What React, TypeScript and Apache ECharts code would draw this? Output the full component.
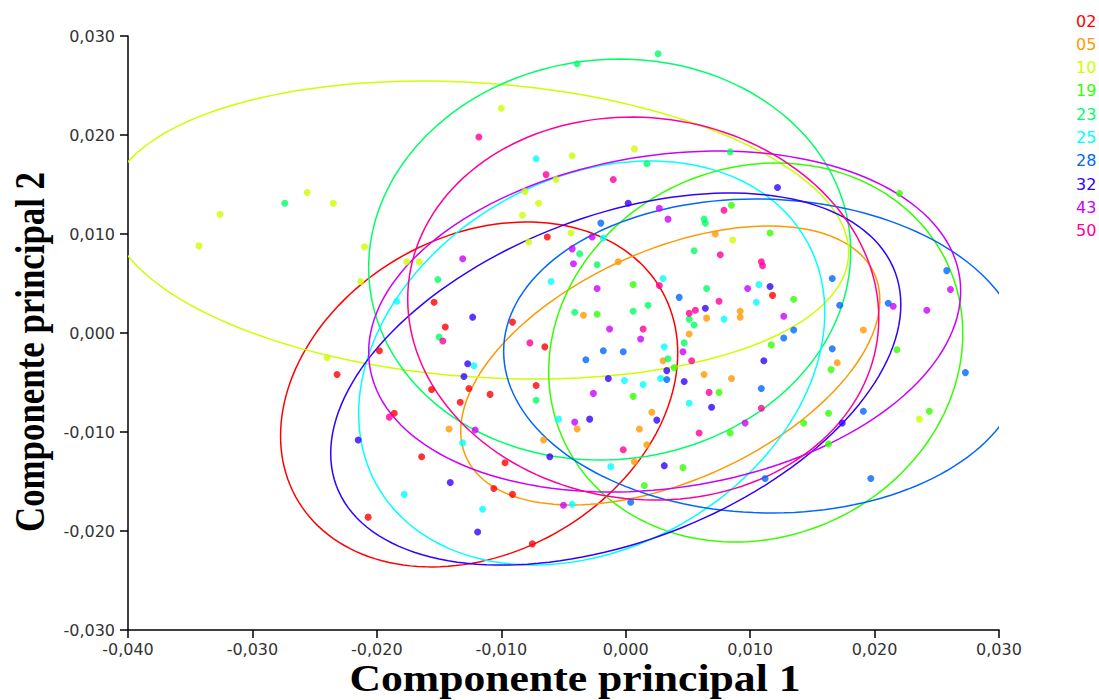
import React, { useEffect, useRef } from "react";
import * as echarts from "echarts";

// ---------- data ----------
const groups = ["02", "05", "10", "19", "23", "25", "28", "32", "43", "50"];
const groupColors = ["#ff0000", "#ff9900", "#ccff00", "#33ff00", "#00ff66", "#00ffff", "#0066ff", "#3300ff", "#cc00ff", "#ff0099"];

const xTicks = [-0.04, -0.03, -0.02, -0.01, 0, 0.01, 0.02, 0.03];
const yTicks = [-0.03, -0.02, -0.01, 0, 0.01, 0.02, 0.03];

const g02 = [[-0.0154, 0.0031], [-0.0145, 0.0006], [-0.0091, 0.0011], [-0.0063, 0.0097], [0.0118, 0.0038], [-0.0198, -0.0018], [-0.0065, -0.0014], [-0.0232, -0.0042], [-0.0072, -0.0053], [-0.0156, -0.0057], [-0.0126, -0.0056], [-0.0109, -0.0062], [-0.0133, -0.007], [-0.0186, -0.0081], [-0.0164, -0.0125], [-0.0097, -0.0131], [-0.0106, -0.0157], [-0.0091, -0.0163], [-0.0207, -0.0186], [-0.0075, -0.0213]];
const g05 = [[0.0072, 0.01], [-0.0006, 0.0072], [-0.0034, 0.0018], [0.003, -0.0028], [0.0063, -0.0042], [0.0065, 0.0015], [0.0051, -0.0001], [0.0092, 0.0022], [0.0092, 0.0016], [0.0191, 0.0003], [0.0085, -0.0046], [0.017, -0.003], [0.0021, -0.008], [0.0011, -0.0097], [0.0017, -0.0113], [0.0007, -0.013], [-0.0142, -0.0097], [-0.0066, -0.0108], [-0.0039, -0.0097]];
const g10 = [[-0.0343, 0.0088], [-0.0326, 0.012], [-0.0256, 0.0142], [-0.0235, 0.0131], [-0.021, 0.0087], [-0.0213, 0.0052], [-0.0176, 0.0072], [-0.0166, 0.0072], [-0.01, 0.0227], [-0.0081, 0.0143], [-0.007, 0.0131], [-0.0083, 0.0119], [-0.0078, 0.0092], [-0.0043, 0.0179], [0.0007, 0.0186], [-0.0056, 0.0155], [-0.0044, 0.0101], [0.0086, 0.0094], [-0.024, -0.0025], [0.0236, -0.0087]];
const g19 = [[0.0116, 0.0101], [0.0006, 0.0049], [-0.0023, 0.0019], [0.0135, 0.0034], [0.022, 0.0141], [0.0085, 0.0129], [0.0039, -0.0035], [0.0117, -0.0012], [0.0165, -0.0037], [0.0218, -0.0017], [0.0244, -0.0079], [0.0163, -0.0081], [0.0143, -0.0091], [0.0163, -0.0112], [0.0084, -0.0101], [0.0075, -0.006], [0.0006, -0.0064], [0.0046, -0.0136], [0.0015, -0.0154]];
const g23 = [[0.0026, 0.0282], [-0.0039, 0.0272], [-0.0274, 0.0131], [-0.0151, 0.0054], [0.0084, 0.0183], [0.0017, 0.0171], [0.0063, 0.0115], [0.0064, 0.0111], [0.0055, 0.0083], [-0.0037, 0.008], [-0.0023, 0.0069], [0.0065, 0.0045], [0.0018, 0.0028], [-0.0041, 0.0021], [0.0006, 0.0022], [0.0051, 0.0014], [0.0055, 0.0008], [0.0047, -0.001], [0.0034, -0.0026], [-0.015, -0.0004], [-0.0072, -0.0068]];
const g25 = [[-0.0072, 0.0176], [-0.0184, 0.0032], [-0.006, 0.0052], [0.003, 0.0055], [0.0107, 0.0049], [0.0105, 0.0031], [0.0079, 0.0014], [-0.0018, 0.0096], [0.0031, -0.0014], [-0.0001, -0.0048], [0.0014, -0.0052], [0.0028, -0.0046], [-0.0122, -0.0033], [-0.0131, -0.0111], [-0.0178, -0.0163], [-0.0115, -0.0178], [-0.0054, -0.0087], [-0.0043, -0.0173], [-0.0012, -0.0135], [0.0051, -0.0071]];
const g28 = [[-0.002, 0.0111], [0.0043, 0.0036], [0.0166, 0.0055], [0.0172, 0.0028], [0.0211, 0.003], [0.0258, 0.0063], [0.0135, 0.0003], [0.0127, -0.0005], [0.0166, -0.0016], [-0.0018, -0.0018], [-0.0002, -0.0019], [-0.0032, -0.0027], [0.0033, -0.0047], [0.0109, -0.0056], [0.0273, -0.004], [0.0191, -0.0079], [0.0112, -0.0147], [0.0197, -0.0147], [0.0004, -0.0171]];
const g32 = [[0.0122, 0.0147], [0.0002, 0.0131], [0.0064, 0.0025], [0.0116, 0.0047], [0.0033, -0.0038], [-0.0014, -0.0046], [0.0047, -0.0049], [0.0111, -0.0028], [-0.0123, 0.0016], [-0.0127, -0.0031], [-0.013, -0.0044], [-0.0215, -0.0108], [-0.0141, -0.0151], [-0.0119, -0.0201], [-0.0061, -0.0125], [-0.0029, -0.0087], [0.0025, -0.0088], [0.0069, -0.0075], [0.0174, -0.0091], [0.0031, -0.0134]];
const g43 = [[-0.0131, 0.0075], [0.0027, 0.0126], [0.0034, 0.0115], [-0.0027, 0.0097], [-0.0043, 0.0085], [-0.0042, 0.007], [-0.0023, 0.0045], [0.0098, 0.0045], [0.0127, 0.0017], [0.0261, 0.0044], [0.0215, 0.0027], [0.0242, 0.0023], [-0.0013, 0.0004], [0.0012, -0.0006], [0.0046, -0.0019], [-0.0026, -0.0061], [-0.0041, -0.009], [-0.0121, -0.0098], [-0.005, -0.0174], [0.0096, -0.0091]];
const g50 = [[-0.0118, 0.0198], [-0.0064, 0.016], [-0.001, 0.0155], [0.0079, 0.0124], [0.0076, 0.0079], [0.0109, 0.0072], [0.011, 0.0068], [0.0027, 0.0048], [0.0075, 0.0032], [0.0056, 0.0023], [0.0051, 0.002], [0.0014, 0.0004], [-0.0077, -0.001], [0.0053, -0.0028], [-0.0147, -0.0008], [-0.019, -0.0085], [-0.0002, -0.0118], [0.0067, -0.006], [0.0109, -0.0076], [0.0059, -0.0101]];
const groupPoints = [g02, g05, g10, g19, g23, g25, g28, g32, g43, g50];

// confidence ellipses: centre, half extents along x and y, and correlation-like tilt
const ellipseCx = [-0.01178, 0.00358, -0.01182, 0.01045, -0.00129, -0.00273, 0.01109, -0.0008, 0.00313, 0.00141];
const ellipseCy = [-0.00621, -0.00328, 0.0104, -0.00197, 0.00742, -0.00303, -0.00232, -0.00465, 0.00116, 0.00247];
const ellipseHalfW = [0.01596, 0.01684, 0.02974, 0.01664, 0.01937, 0.01873, 0.0209, 0.02291, 0.02379, 0.01893];
const ellipseHalfH = [0.01742, 0.01409, 0.01505, 0.01914, 0.02025, 0.0204, 0.01586, 0.01879, 0.01722, 0.01934];
const ellipseTilt = [0.24, 0.47, -0.15, 0.1, 0.04, 0.25, -0.03, 0.4, 0.18, -0.05];

const fmt = (v: number) => v.toFixed(3).replace(".", ",").replace(/^-0,000$/, "0,000");

export default function App() {
  const ref = useRef<HTMLDivElement>(null);
  useEffect(() => {
    if (!ref.current) return;
    const chart = echarts.init(ref.current, null, { renderer: "svg" });

    const ellipseData = groups.map((_, i) => [ellipseCx[i], ellipseCy[i], ellipseHalfW[i], ellipseHalfH[i], ellipseTilt[i]]);

    const option: any = {
      animation: false,
      backgroundColor: "#ffffff",
      grid: { left: 128, right: 100, top: 36, bottom: 70, containLabel: false },
      legend: {
        orient: "vertical",
        left: 1066,
        top: 8,
        itemWidth: 0,
        itemHeight: 0,
        itemGap: 7.3,
        selectedMode: false,
        textStyle: { fontFamily: "DejaVu Sans", fontSize: 16, lineHeight: 16, padding: 0 },
        data: groups.map((g, i) => ({ name: g, icon: "circle", textStyle: { color: groupColors[i] } })),
      },
      xAxis: {
        type: "value",
        min: xTicks[0],
        max: xTicks[xTicks.length - 1],
        interval: 0.01,
        splitLine: { show: false },
        axisLine: { show: true, onZero: false, lineStyle: { color: "#000", width: 1.5 } },
        axisTick: { show: true, length: 8, lineStyle: { color: "#000", width: 1.5 } },
        axisLabel: { formatter: fmt, fontFamily: "DejaVu Sans", fontSize: 16, color: "#333", margin: 11 },
      },
      yAxis: {
        type: "value",
        min: yTicks[0],
        max: yTicks[yTicks.length - 1],
        interval: 0.01,
        splitLine: { show: false },
        axisLine: { show: true, onZero: false, lineStyle: { color: "#000", width: 1.5 } },
        axisTick: { show: true, length: 8, lineStyle: { color: "#000", width: 1.5 } },
        axisLabel: { formatter: fmt, fontFamily: "DejaVu Sans", fontSize: 16, color: "#333", margin: 13 },
      },
      graphic: [
        {
          type: "text",
          x: 575,
          y: 679,
          scaleX: 1.18,
          style: {
            text: "Componente principal 1",
            fontFamily: "Liberation Serif",
            fontWeight: "bold",
            fontSize: 37,
            fill: "#000",
            align: "center",
            verticalAlign: "middle",
          },
        },
        {
          type: "text",
          x: 30,
          y: 352,
          rotation: Math.PI / 2,
          scaleX: 0.83,
          style: {
            text: "Componente principal 2",
            fontFamily: "Liberation Serif",
            fontWeight: "bold",
            fontSize: 42,
            fill: "#000",
            align: "center",
            verticalAlign: "middle",
          },
        },
      ],
      series: [
        {
          name: "ellipses",
          type: "custom",
          clip: true,
          silent: true,
          z: 1,
          data: ellipseData,
          renderItem: (params: any, api: any) => {
            const cx = api.value(0);
            const cy = api.value(1);
            const a = api.value(2);
            const b = api.value(3);
            const r = api.value(4);
            const phi = Math.acos(r);
            const pts: number[][] = [];
            const n = 160;
            for (let k = 0; k < n; k++) {
              const t = (k / n) * Math.PI * 2;
              pts.push(api.coord([cx + a * Math.cos(t), cy + b * Math.cos(t + phi)]));
            }
            return {
              type: "polygon",
              shape: { points: pts },
              style: { fill: "none", stroke: groupColors[params.dataIndex], lineWidth: 1.5 },
            };
          },
        },
        ...groups.map((g, i) => ({
          name: g,
          type: "scatter",
          z: 3,
          symbol: "circle",
          symbolSize: 7,
          itemStyle: { color: groupColors[i] },
          data: groupPoints[i],
        })),
      ],
    };
    chart.setOption(option);
    return () => chart.dispose();
  }, []);

  return <div ref={ref} style={{ position: "absolute", left: 0, top: 0, width: 1099, height: 700 }} />;
}
